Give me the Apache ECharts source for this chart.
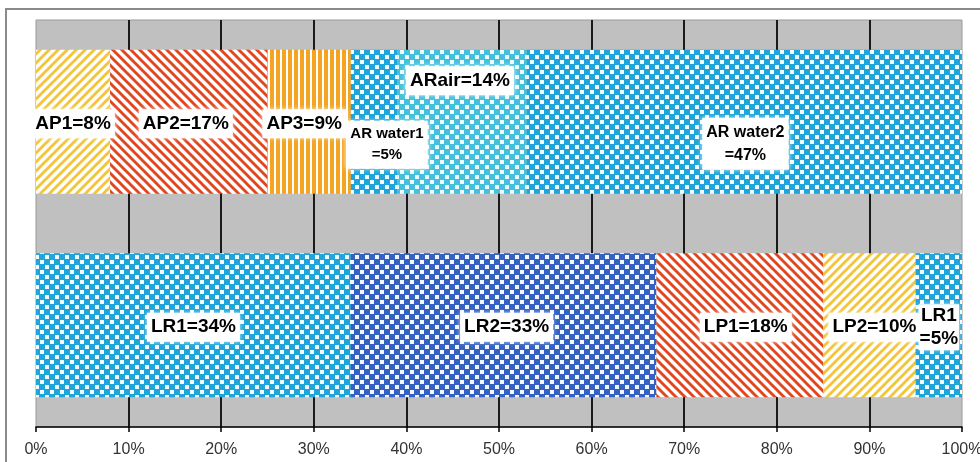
<!DOCTYPE html>
<html>
<head>
<meta charset="utf-8">
<script src="https://cdn.jsdelivr.net/npm/echarts@6/dist/echarts.min.js"></script>
<style>
  html, body { margin: 0; padding: 0; background: #fff; }
  #chart { width: 980px; height: 462px; }
</style>
</head>
<body>
<div id="chart"></div>
<script>
// Two 100% stacked bars: the upper one (AP / AR) and the lower one (LR / LP)
const categories = ['L', 'A'];
const topNames = ['AP1', 'AP2', 'AP3', 'AR water1', 'ARair', 'AR water2'];
const topValues = [8, 17, 9, 5, 14, 47];
const bottomNames = ['LR1', 'LR2', 'LP1', 'LP2', 'LR1'];
const bottomValues = [34, 33, 18, 10, 5];
const tickValues = [0, 10, 20, 30, 40, 50, 60, 70, 80, 90, 100];

// ---- hatch / checker fills built on small canvases ----
function tile(w, h, draw) {
  const c = document.createElement('canvas');
  c.width = w; c.height = h;
  const ctx = c.getContext('2d');
  ctx.fillStyle = '#ffffff';
  ctx.fillRect(0, 0, w, h);
  draw(ctx);
  return { image: c, repeat: 'repeat' };
}
function diag(color, rising) {
  const p = 9;
  return tile(p, p, ctx => {
    ctx.strokeStyle = color;
    ctx.lineWidth = 2.9;
    for (let k = -2; k <= 2; k++) {
      ctx.beginPath();
      if (rising) {
        ctx.moveTo(k * p + 1, -1);
        ctx.lineTo(k * p - p - 1, p + 1);
      } else {
        ctx.moveTo(k * p - 1, -1);
        ctx.lineTo(k * p + p + 1, p + 1);
      }
      ctx.stroke();
    }
  });
}
function vstripe(color) {
  return tile(6, 6, ctx => {
    ctx.fillStyle = color;
    ctx.fillRect(0, 0, 4, 6);
  });
}
function checker(color, light) {
  return tile(10, 10, ctx => {
    ctx.fillStyle = color;
    ctx.fillRect(0, 0, 10, 10);
    ctx.fillStyle = light;
    ctx.fillRect(0, 0, 4, 4);
    ctx.fillRect(5, 5, 4, 4);
  });
}

const fills = {
  yellow: diag('#f2c53a', true),
  red: diag('#e2461e', false),
  orange: vstripe('#f5a422'),
  cyan: checker('#1fa5da', '#f4fbfe'),
  aqua: checker('#45c0dc', '#f0fafc'),
  blue: checker('#3461c2', '#f2f6fd')
};

const topFills = ['yellow', 'red', 'orange', 'cyan', 'aqua', 'cyan'];
const bottomFills = ['cyan', 'blue', 'red', 'yellow', 'cyan'];

// label layout for each segment: font size, offset, line break
const topLabelStyle = [
  { size: 19, offset: [0, 2] },
  { size: 19, offset: [-3, 2] },
  { size: 19, offset: [-5, 2] },
  { size: 15, offset: [13, 23], wrap: true, lh: 21 },
  { size: 19, offset: [-2, -41] },
  { size: 16, offset: [1, 22], wrap: true, lh: 23 }
];
const bottomLabelStyle = [
  { size: 19, offset: [0, 2] },
  { size: 19, offset: [3, 2] },
  { size: 19, offset: [6, 2] },
  { size: 19, offset: [5, 2] },
  { size: 19, offset: [0, 2], wrap: true, lh: 23, pad: [0, 1] }
];

function makeSeries(names, values, fillKeys, styles, catIndex) {
  return names.map((name, i) => {
    const st = styles[i];
    const data = categories.map((c, ci) => ci === catIndex ? values[i] : '-');
    const text = name + (st.wrap ? '\n' : '') + '=' + values[i] + '%';
    return {
      name: name,
      type: 'bar',
      stack: 'all',
      barWidth: 144,
      data: data,
      itemStyle: { color: fills[fillKeys[i]] },
      emphasis: { disabled: true },
      label: {
        show: true,
        position: 'inside',
        offset: st.offset,
        formatter: () => text,
        color: '#000',
        fontFamily: '"Liberation Sans", Arial, sans-serif',
        fontWeight: 'bold',
        fontSize: st.size,
        lineHeight: st.lh || Math.round(st.size * 1.2),
        backgroundColor: '#ffffff',
        padding: st.pad || [3, 4],
        shadowColor: 'rgba(255,255,255,0.9)',
        shadowBlur: 5,
        align: 'center'
      }
    };
  });
}

const series = [
  ...makeSeries(topNames, topValues, topFills, topLabelStyle, 1),
  ...makeSeries(bottomNames, bottomValues, bottomFills, bottomLabelStyle, 0)
];

const chart = echarts.init(document.getElementById('chart'), null, { renderer: 'canvas' });
chart.setOption({
  animation: false,
  backgroundColor: '#ffffff',
  graphic: [{
    type: 'rect',
    shape: { x: 6, y: 9, width: 1000, height: 500 },
    style: { fill: 'none', stroke: '#8a8a8a', lineWidth: 2 },
    silent: true,
    z: -1
  }],
  grid: {
    left: 36, right: 18, top: 20, bottom: 35,
    outerBoundsMode: 'none',
    containLabel: false,
    show: true,
    backgroundColor: '#c0c0c0',
    borderColor: '#9a9a9a',
    borderWidth: 1
  },
  xAxis: {
    type: 'value',
    min: tickValues[0],
    max: tickValues[tickValues.length - 1],
    interval: tickValues[1] - tickValues[0],
    axisLine: { show: true, lineStyle: { color: '#000', width: 1.5 } },
    axisTick: { show: true, length: 5, lineStyle: { color: '#000', width: 1.5 } },
    axisLabel: {
      formatter: '{value}%',
      color: '#333',
      fontSize: 16,
      fontFamily: 'Arial, "Liberation Sans", sans-serif',
      margin: 15
    },
    splitLine: {
      show: true,
      showMinLine: false,
      showMaxLine: false,
      lineStyle: { color: '#1a1a1a', width: 2 }
    }
  },
  yAxis: {
    type: 'category',
    data: categories,
    axisLine: { show: false },
    axisTick: { show: false },
    axisLabel: { show: false },
    splitLine: { show: false }
  },
  series: series
});
</script>
</body>
</html>
